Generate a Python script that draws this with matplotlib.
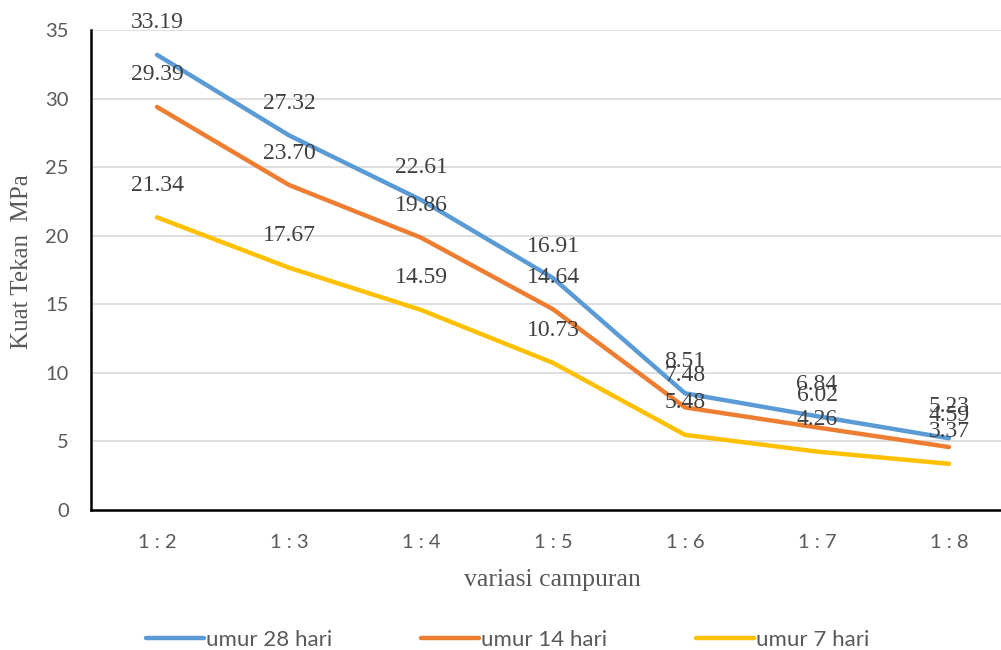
import numpy as np
from matplotlib import pyplot as plt

categories = ['1 : 2', '1 : 3', '1 : 4', '1 : 5', '1 : 6', '1 : 7', '1 : 8']
umur_28 = [33.19, 27.32, 22.61, 16.91, 8.51, 6.84, 5.23]
umur_14 = [29.39, 23.70, 19.86, 14.64, 7.48, 6.02, 4.59]
umur_7 = [21.34, 17.67, 14.59, 10.73, 5.48, 4.26, 3.37]
series_names = ['umur 28 hari', 'umur 14 hari', 'umur 7 hari']
colors = ['#5B9BD5', '#ED7D31', '#FFC000']

SANS = ['Lato', 'DejaVu Sans']
SERIF = ['Liberation Serif', 'DejaVu Serif']

fig = plt.figure(figsize=(10.01, 6.5), dpi=100)
ax = fig.add_axes([91 / 1001, 140 / 650, 924 / 1001, 480 / 650])

x = np.arange(len(categories))
lines = []
for vals, name, c in zip([umur_28, umur_14, umur_7], series_names, colors):
    ln, = ax.plot(x, vals, color=c, lw=3.2, solid_capstyle='round', label=name)
    lines.append(ln)

# data labels above every point
for vals in [umur_28, umur_14, umur_7]:
    for xi, v in zip(x, vals):
        ax.annotate('%.2f' % v, (xi, v), xytext=(0, 23), textcoords='offset points',
                    ha='center', va='center', fontsize=17, family=SERIF,
                    color='#404040')

ax.set_xlim(-0.5, 6.5)
ax.set_ylim(0, 35)
ax.set_yticks(range(0, 36, 5))
ax.set_xticks(x)
ax.set_xticklabels(categories)
ax.grid(axis='y', color='#D9D9D9', lw=1.2)
ax.set_axisbelow(True)
for s in ['top', 'right']:
    ax.spines[s].set_visible(False)
ax.spines['left'].set_linewidth(1.8)
ax.spines['bottom'].set_linewidth(1.8)
ax.tick_params(length=0, labelsize=14.5, labelcolor='#595959')
ax.tick_params(axis='x', pad=17)
ax.tick_params(axis='y', pad=16)
for lab in ax.get_xticklabels() + ax.get_yticklabels():
    lab.set_family(SANS)

fig.text(552 / 1001, 1 - 580 / 650, 'variasi campuran', ha='center', va='center',
         fontsize=18.5, family=SERIF, color='#595959')
fig.text(22 / 1001, 1 - 262 / 650, 'Kuat Tekan  MPa', ha='center', va='center',
         rotation=90, fontsize=18, family=SERIF, color='#595959')

fig.legend(handles=lines, loc='center', bbox_to_anchor=(508 / 1001, 1 - 640 / 650),
           ncol=3, frameon=False, handlelength=2.6, handletextpad=0.1,
           columnspacing=4.0, prop={'family': SANS, 'size': 16},
           labelcolor='#595959')

fig.savefig('out.png', dpi=100)
